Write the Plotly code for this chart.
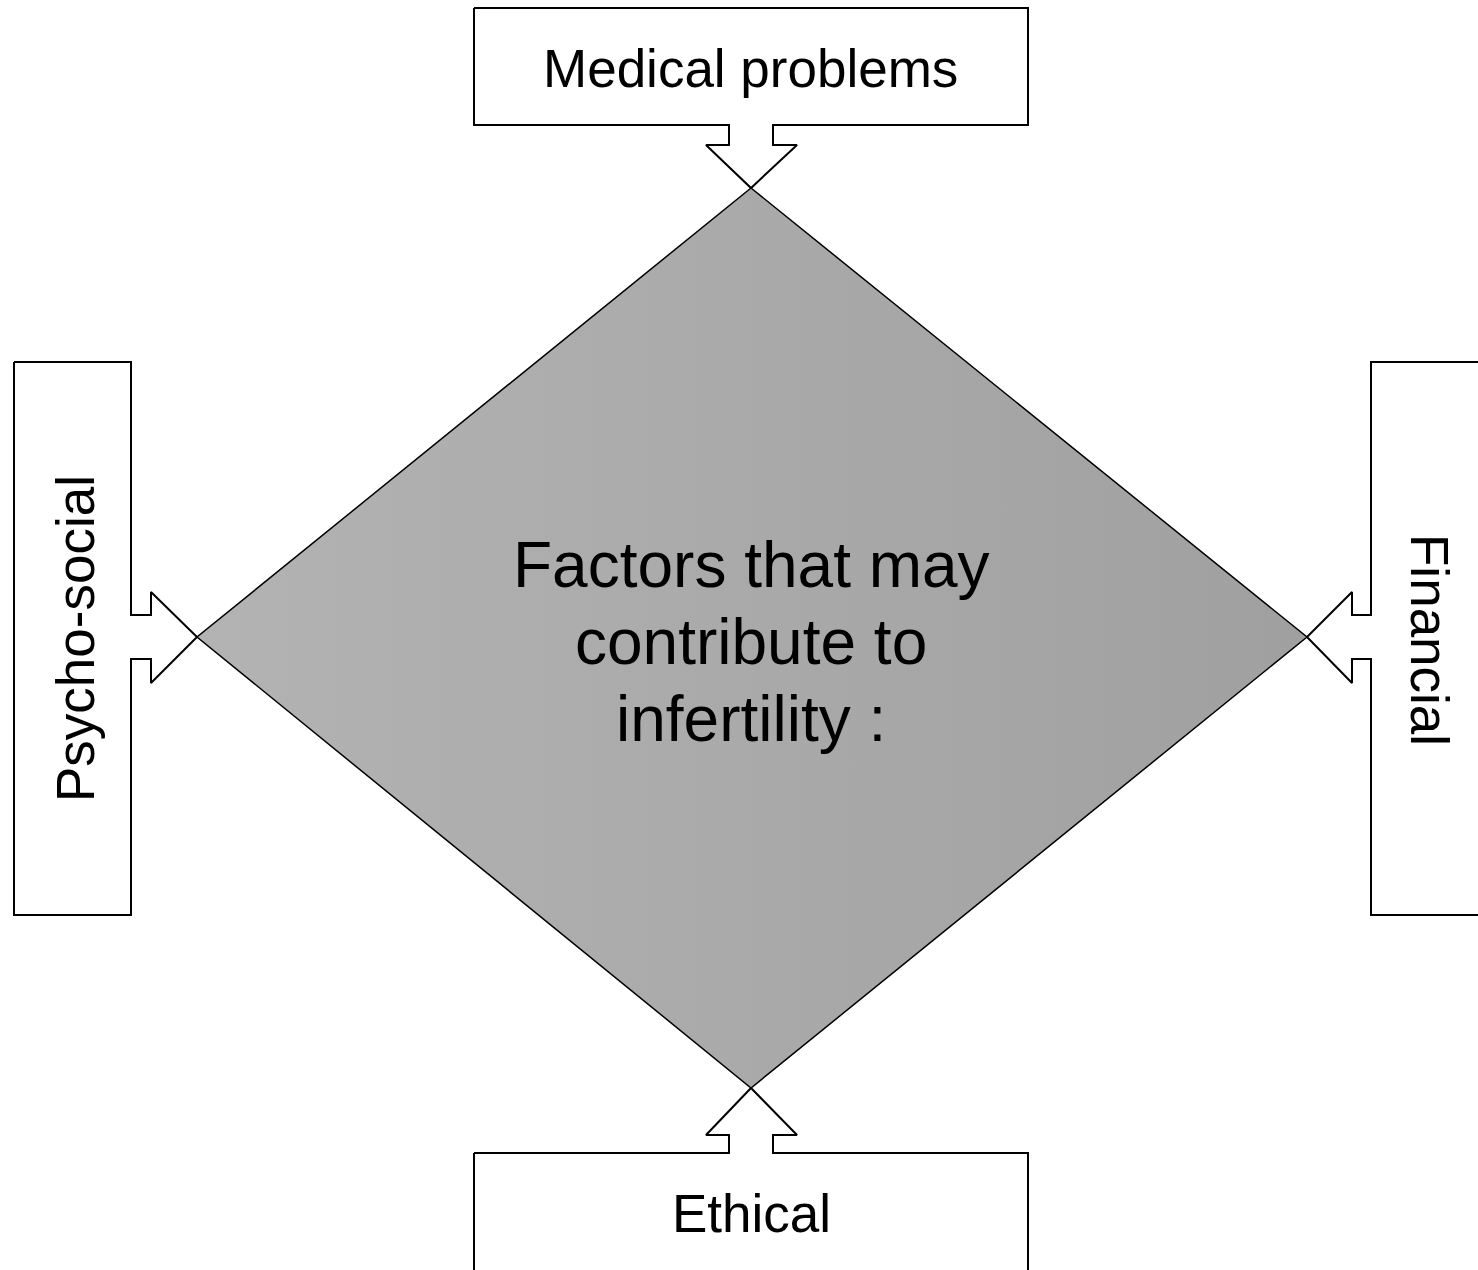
import plotly.graph_objects as go

# ---- content ----
center_lines = ["Factors that may", "contribute to", "infertility :"]
box_labels = ["Medical problems", "Psycho-social", "Financial", "Ethical"]

W, H = 1478, 1270
FONT = "Liberation Sans, Arial, sans-serif"

# diamond vertices (top, right, bottom, left)
diamond_x = [751, 1307, 751, 197, 751]
diamond_y = [188, 637, 1088, 637, 188]

# box + arrow outlines
top_x = [474, 1028, 1028, 773, 773, 797, 751, 706, 729, 729, 474, 474]
top_y = [8, 8, 125, 125, 145, 145, 188, 145, 145, 125, 125, 8]

left_x = [14, 131, 131, 151, 151, 197, 151, 151, 131, 131, 14, 14]
left_y = [362, 362, 615, 615, 592, 637, 683, 659, 659, 915, 915, 362]

right_x = [1500, 1371, 1371, 1352, 1352, 1307, 1352, 1352, 1371, 1371, 1500, 1500]
right_y = [362, 362, 615, 615, 592, 637, 683, 659, 659, 915, 915, 362]

bot_x = [474, 729, 729, 706, 751, 797, 773, 773, 1028, 1028, 474, 474]
bot_y = [1153, 1153, 1135, 1135, 1088, 1135, 1135, 1153, 1153, 1300, 1300, 1153]

fig = go.Figure()

for xs, ys in [(top_x, top_y), (left_x, left_y), (right_x, right_y), (bot_x, bot_y)]:
    fig.add_trace(go.Scatter(x=xs, y=ys, mode="lines", fill="toself",
                             fillcolor="white", line=dict(color="black", width=2),
                             hoverinfo="skip", showlegend=False))

fig.add_trace(go.Scatter(x=diamond_x, y=diamond_y, mode="lines", fill="toself",
                         fillcolor="#aaaaaa",
                         fillgradient=dict(type="horizontal",
                                           colorscale=[[0, "#b3b3b3"], [1, "#a0a0a0"]]),
                         line=dict(color="black", width=1.5),
                         hoverinfo="skip", showlegend=False))

annots = [
    dict(x=751, y=565, text=center_lines[0], size=64, angle=0),
    dict(x=751, y=642, text=center_lines[1], size=64, angle=0),
    dict(x=751, y=719, text=center_lines[2], size=64, angle=0),
    dict(x=750, y=68, text=box_labels[0], size=53, angle=0),
    dict(x=75, y=639, text=box_labels[1], size=53, angle=-90),
    dict(x=1430, y=640, text=box_labels[2], size=53, angle=90),
    dict(x=751, y=1213, text=box_labels[3], size=53, angle=0),
]
for a in annots:
    fig.add_annotation(x=a["x"], y=a["y"], text=a["text"], showarrow=False,
                       xref="x", yref="y", textangle=a["angle"],
                       font=dict(family=FONT, color="black", size=a["size"]),
                       align="center", xanchor="center", yanchor="middle")

fig.update_layout(
    width=W, height=H,
    margin=dict(l=0, r=0, t=0, b=0),
    paper_bgcolor="white", plot_bgcolor="white",
    xaxis=dict(range=[0, W], visible=False, fixedrange=True),
    yaxis=dict(range=[H, 0], visible=False, fixedrange=True),
    showlegend=False,
)

fig.write_html("out.html", config={"displayModeBar": False},
               post_script="document.body.style.margin='0';document.body.style.overflow='hidden';")
